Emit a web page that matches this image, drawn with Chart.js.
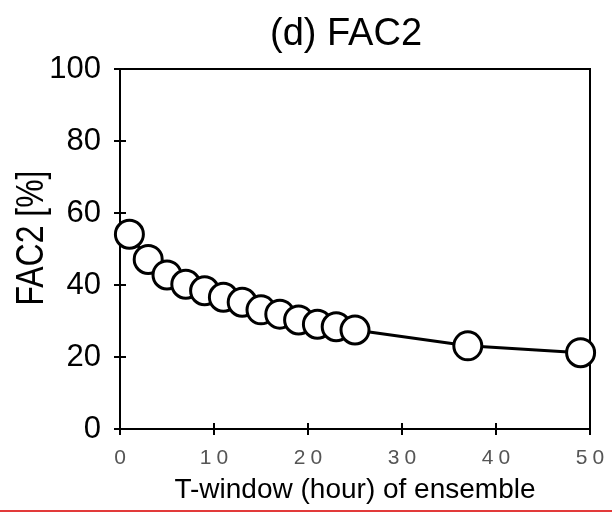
<!DOCTYPE html>
<html>
<head>
<meta charset="utf-8">
<script src="https://cdn.jsdelivr.net/npm/chart.js@4/dist/chart.umd.min.js"></script>
<style>
  html, body { margin: 0; background: #fff; }
  #wrap { position: relative; width: 612px; height: 513px; }
  #redline { position: absolute; left: 0; top: 510px; width: 612px; height: 2px; background: #e23a3a; }
</style>
</head>
<body>
<div id="wrap">
  <canvas id="fac2Chart" width="612" height="513"></canvas>
  <div id="redline"></div>
</div>
<script>
// T-window (hour) of ensemble vs FAC2 [%]
const hours = [1, 3, 5, 7, 9, 11, 13, 15, 17, 19, 21, 23, 25, 37, 49];
const fac2 = [54.1, 47.1, 42.8, 40.2, 38.4, 36.6, 35.2, 33.1, 31.9, 30.3, 29.1, 28.4, 27.5, 23.1, 21.2];
const xTicks = [0, 10, 20, 30, 40, 50];
const yTicks = [0, 20, 40, 60, 80, 100];

const FONT = "'Liberation Sans', Arial, Helvetica, sans-serif";

// frame (top/right), ticks crossing the axes, grey spaced x labels, titles
const framePlugin = {
  id: 'frame',
  beforeDatasetsDraw(chart) {
    const { ctx, chartArea: a, scales: { x, y } } = chart;
    ctx.save();
    ctx.strokeStyle = '#000';
    ctx.lineWidth = 2;
    ctx.beginPath();
    ctx.moveTo(a.left, a.top);
    ctx.lineTo(a.right, a.top);
    ctx.lineTo(a.right, a.bottom);
    yTicks.forEach(v => {
      const py = Math.round(y.getPixelForValue(v));
      ctx.moveTo(a.left - 6, py);
      ctx.lineTo(a.left + 6, py);
    });
    xTicks.forEach(v => {
      const px = Math.round(x.getPixelForValue(v));
      ctx.moveTo(px, a.bottom - 6);
      ctx.lineTo(px, a.bottom + 6);
    });
    ctx.stroke();
    ctx.restore();
  },
  afterDraw(chart) {
    const { ctx, scales: { x } } = chart;
    ctx.save();
    ctx.fillStyle = '#555';
    ctx.font = '21px ' + FONT;
    ctx.textAlign = 'center';
    ctx.textBaseline = 'middle';
    ctx.letterSpacing = '5px';
    xTicks.forEach(v => {
      ctx.fillText(String(v), x.getPixelForValue(v) + 2.5, 458);
    });
    ctx.letterSpacing = '0px';

    // chart title
    ctx.fillStyle = '#000';
    ctx.font = '38px ' + FONT;
    ctx.textBaseline = 'alphabetic';
    ctx.fillText('(d) FAC2', 346, 45);

    // y axis title (narrow face, like the original)
    ctx.translate(43, 238);
    ctx.rotate(-Math.PI / 2);
    ctx.scale(0.84, 1);
    ctx.font = '38px ' + FONT;
    ctx.fillText('FAC2 [%]', 0, 0);
    ctx.restore();
  }
};

new Chart(document.getElementById('fac2Chart'), {
  type: 'scatter',
  data: {
    datasets: [{
      data: hours.map((h, i) => ({ x: h, y: fac2[i] })),
      showLine: true,
      borderColor: '#000',
      borderWidth: 3,
      pointRadius: 14,
      pointHoverRadius: 14,
      pointBorderWidth: 3,
      pointBackgroundColor: '#fff',
      pointBorderColor: '#000',
      tension: 0,
      clip: false
    }]
  },
  options: {
    responsive: false,
    animation: false,
    layout: { padding: { left: 0, right: 22, top: 69, bottom: 0 } },
    plugins: {
      legend: { display: false },
      tooltip: { enabled: false },
      title: { display: false }
    },
    scales: {
      x: {
        type: 'linear',
        min: 0,
        max: 50,
        ticks: { display: false, stepSize: 10 },
        grid: { display: false, drawTicks: false },
        border: { display: true, color: '#000', width: 2 },
        title: {
          display: true,
          text: 'T-window (hour) of ensemble',
          color: '#000',
          font: { family: FONT, size: 28 },
          padding: { top: 0, bottom: 6 }
        },
        afterFit(scale) { scale.height = 84; }
      },
      y: {
        min: 0,
        max: 100,
        ticks: {
          stepSize: 20,
          color: '#000',
          padding: 19,
          font: { family: FONT, size: 31 }
        },
        grid: { display: false, drawTicks: false },
        border: { display: true, color: '#000', width: 2 },
        afterFit(scale) { scale.width = 120; }
      }
    }
  },
  plugins: [framePlugin]
});
</script>
</body>
</html>
